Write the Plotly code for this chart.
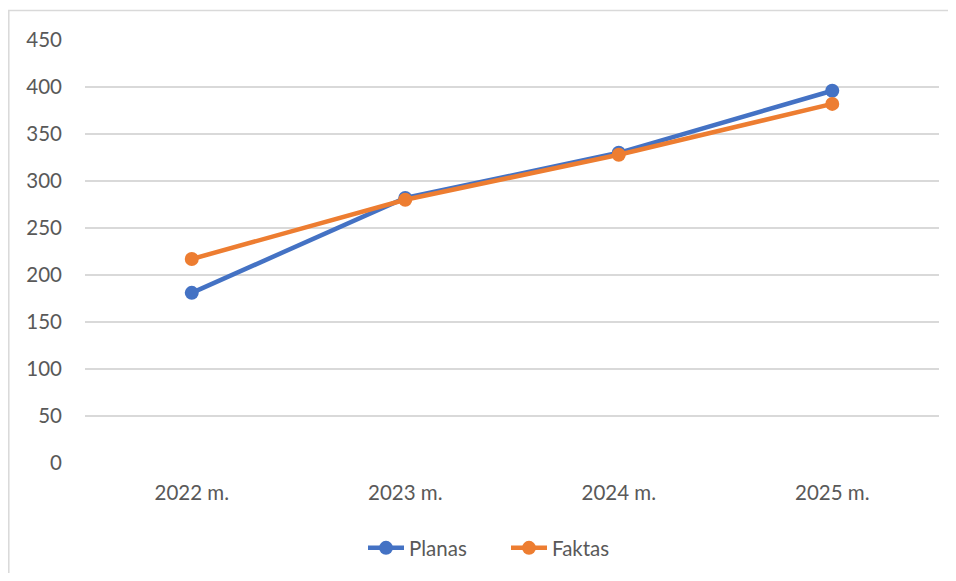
import plotly.graph_objects as go

categories = ["2022 m.", "2023 m.", "2024 m.", "2025 m."]
planas = [181, 282, 330, 396]
faktas = [217, 280, 328, 382]
y_ticks = [0, 50, 100, 150, 200, 250, 300, 350, 400, 450]

# The page body has an 8px margin; figure coordinates = page coordinates - 8
OFF = 8
W, H = 948, 565
L, R, T = 85 - OFF, 17, 40 - OFF
B = H - (463 - OFF)
pw, ph = W - L - R, H - T - B

def px_x(x):
    return (x - OFF - L) / pw

def px_y(y):
    return (H - B - (y - OFF)) / ph

FS = 20.5
TXT = "#595959"

fig = go.Figure()
fig.add_trace(go.Scatter(x=categories, y=planas, name="Planas", mode="lines+markers",
                         line=dict(color="#4472C4", width=4.5),
                         marker=dict(size=14, color="#4472C4")))
fig.add_trace(go.Scatter(x=categories, y=faktas, name="Faktas", mode="lines+markers",
                         line=dict(color="#ED7D31", width=4.5),
                         marker=dict(size=14, color="#ED7D31")))

fig.add_shape(type="rect", xref="paper", yref="paper",
              x0=px_x(8.8), x1=px_x(990), y0=px_y(620), y1=px_y(10.5),
              line=dict(color="#D9D9D9", width=1.5), fillcolor="rgba(0,0,0,0)", layer="below")

fig.update_layout(
    width=W, height=H,
    margin=dict(l=L, r=R, t=T, b=B, pad=0, autoexpand=False),
    paper_bgcolor="white", plot_bgcolor="white",
    font=dict(family="Lato, Open Sans, sans-serif", size=FS, color=TXT),
    showlegend=True,
    legend=dict(orientation="h", x=px_x(506), xanchor="center", y=px_y(548), yanchor="middle",
                font=dict(size=FS, color=TXT), traceorder="normal",
                itemwidth=36, entrywidth=92, entrywidthmode="pixels"),
    xaxis=dict(type="category", range=[-0.5, 3.5], showgrid=False, zeroline=False, showline=False,
               automargin=False, ticks="", tickfont=dict(size=FS, color=TXT), ticklabelstandoff=15),
    yaxis=dict(range=[0, 450], tickvals=y_ticks, showgrid=True, gridcolor="#D9D9D9",
               gridwidth=1.5, zeroline=False, showline=False, ticks="", automargin=False,
               tickfont=dict(size=FS, color=TXT), ticklabelstandoff=22),
)

fig.write_html("out.html")
